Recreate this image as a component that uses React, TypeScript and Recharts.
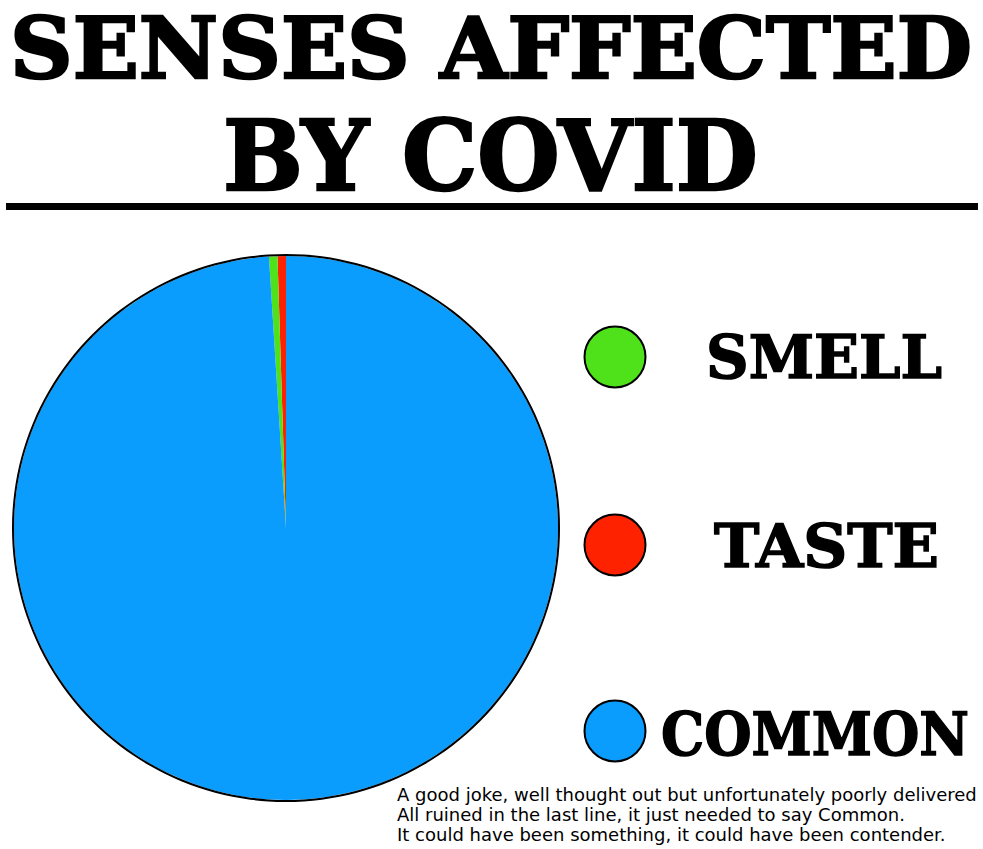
import React from "react";
import { PieChart, Pie, Cell } from "recharts";

const categories = ["TASTE", "SMELL", "COMMON"];
const values = [0.5, 0.5, 99];
const colors = ["#ff2200", "#4fe21a", "#0a9dfd"];
const legendOrder = ["SMELL", "TASTE", "COMMON"];
const titleLines = ["SENSES AFFECTED", "BY COVID"];
const footerLines = [
  "A good joke, well thought out but unfortunately poorly delivered",
  "All ruined in the last line, it just needed to say Common.",
  "It could have been something, it could have been contender.",
];

const data = categories.map((name, i) => ({ name, value: values[i] }));
const ring = [{ name: "outline", value: 1 }];

const legendPos = [
  { cy: 357, tx: 706, tw: 236, ty: 378 },
  { cy: 545, tx: 714, tw: 225, ty: 567 },
  { cy: 731, tx: 661, tw: 308, ty: 755 },
];

export default function App() {
  return (
    <div style={{ position: "absolute", left: 0, top: 0, width: 983, height: 849, background: "#fff" }}>
      <div style={{ position: "absolute", left: 0, top: 0 }}>
        <PieChart width={983} height={849} margin={{ top: 0, right: 0, bottom: 0, left: 0 }}>
          <Pie
            data={data}
            dataKey="value"
            nameKey="name"
            cx={286}
            cy={528}
            outerRadius={272}
            startAngle={90}
            endAngle={450}
            stroke="none"
            isAnimationActive={false}
          >
            {data.map((d, i) => (
              <Cell key={d.name} fill={colors[i]} />
            ))}
          </Pie>
          <Pie
            data={ring}
            dataKey="value"
            cx={286}
            cy={528}
            innerRadius={272}
            outerRadius={274}
            stroke="none"
            fill="#000"
            isAnimationActive={false}
          />
        </PieChart>
      </div>
      <svg width={983} height={849} style={{ position: "absolute", left: 0, top: 0 }}>
        <text
          x={10}
          y={78}
          fontFamily="'DejaVu Serif', serif"
          fontWeight="bold"
          fontSize={84}
          textLength={962}
          lengthAdjust="spacingAndGlyphs"
          fill="#000"
          stroke="#000"
          strokeWidth={2.5}
        >
          {titleLines[0]}
        </text>
        <text
          x={223}
          y={190}
          fontFamily="'DejaVu Serif', serif"
          fontWeight="bold"
          fontSize={98}
          textLength={535}
          lengthAdjust="spacingAndGlyphs"
          fill="#000"
          stroke="#000"
          strokeWidth={2.5}
        >
          {titleLines[1]}
        </text>
        <rect x={6} y={203} width={972} height={7} fill="#000" />
        {legendOrder.map((name, i) => {
          const idx = categories.indexOf(name);
          const p = legendPos[i];
          return (
            <g key={name}>
              <circle cx={615} cy={p.cy} r={30.5} fill={colors[idx]} stroke="#000" strokeWidth={2} />
              <text
                x={p.tx}
                y={p.ty}
                fontFamily="'DejaVu Serif', serif"
                fontWeight="bold"
                fontSize={60}
                textLength={p.tw}
                lengthAdjust="spacingAndGlyphs"
                fill="#000"
                stroke="#000"
                strokeWidth={1.5}
              >
                {name}
              </text>
            </g>
          );
        })}
        {footerLines.map((line, i) => (
          <text
            key={i}
            x={397}
            y={801 + i * 20}
            fontFamily="'DejaVu Sans', sans-serif"
            fontSize={18}
            fill="#000"
          >
            {line}
          </text>
        ))}
      </svg>
    </div>
  );
}
